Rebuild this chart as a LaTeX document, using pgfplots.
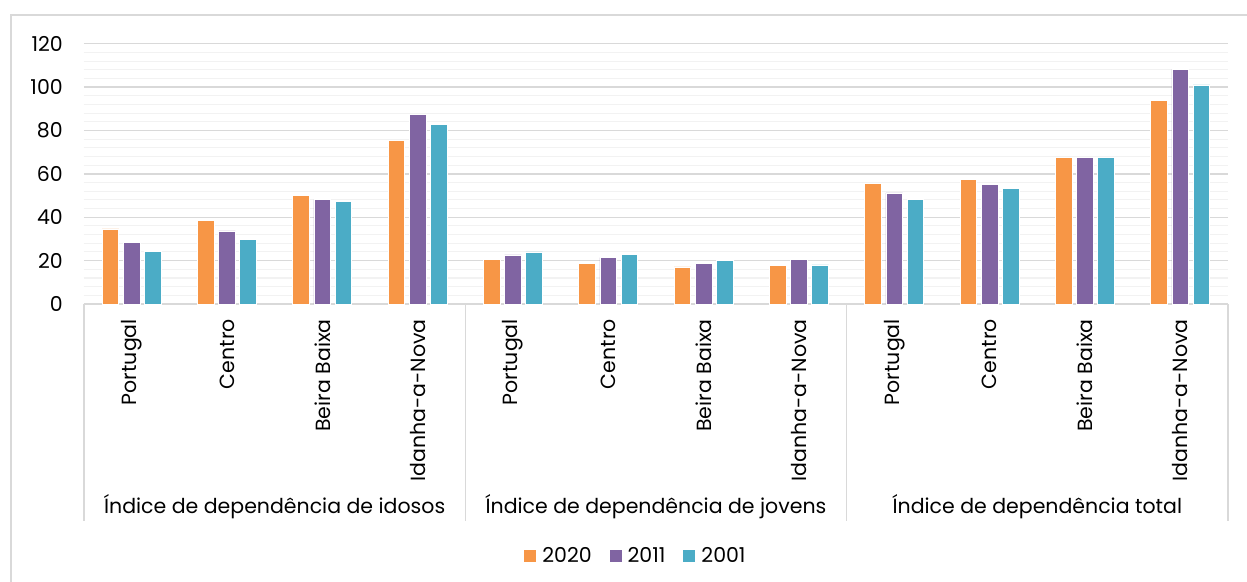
\documentclass[border=0pt]{standalone}
\usepackage{pgfplots}
\pgfplotsset{compat=1.18}
\usepackage{fontspec}
\setmainfont{Poppins}
\definecolor{c20}{HTML}{F79646}
\definecolor{c11}{HTML}{8064A2}
\definecolor{c01}{HTML}{4BACC6}
\definecolor{gridmaj}{HTML}{D9D9D9}
\definecolor{gridmin}{HTML}{F2F2F2}
\newcommand{\cf}{\fontsize{20.5bp}{24bp}\selectfont}
\begin{document}
\begin{tikzpicture}
\path[use as bounding box] (-84bp,-278bp) rectangle (1163bp,304bp);
\fill[white] (-84bp,-278bp) rectangle (1163bp,304bp);
\draw[gridmaj, line width=1.3bp] (-73bp,-300bp) -- (-73bp,289bp) -- (1175bp,289bp);
\begin{axis}[
  at={(0,0)}, anchor=south west, scale only axis,
  width=1144bp, height=260.3bp,
  xmin=-0.5, xmax=11.5, ymin=0, ymax=120,
  clip=false,
  axis lines*=left,
  y axis line style={draw=none},
  x axis line style={gridmaj, line width=1.2bp},
  major tick length=0pt, minor tick length=0pt,
  ytick={0,20,...,120},
  minor y tick num=4,
  ymajorgrids, yminorgrids,
  major grid style={gridmaj, line width=1.3bp},
  minor grid style={gridmin, line width=1.1bp},
  /pgf/number format/assume math mode=true,
  yticklabel style={font=\cf, anchor=east, inner sep=0pt, xshift=-21bp},
  xtick={0,...,11},
  xticklabels={Portugal,Centro,Beira Baixa,Idanha-a-Nova,Portugal,Centro,Beira Baixa,Idanha-a-Nova,Portugal,Centro,Beira Baixa,Idanha-a-Nova},
  xticklabel style={font=\cf, rotate=90, anchor=east, inner xsep=15bp, inner ysep=0pt},
  ybar, bar width=0.175,
  legend columns=3,
  legend style={at={(0.4825,0)}, anchor=center, yshift=-252bp, draw=none, fill=none, font=\cf,
    /tikz/every even column/.append style={column sep=16bp},
    /tikz/every odd column/.append style={column sep=4bp}},
  legend image code/.code={\fill[#1, draw=none] (0bp,-6bp) rectangle (12bp,6bp);},
]
\addplot[fill=c20, draw=white, line width=0.8bp, bar shift=-0.222] coordinates {
 (0,34.6) (1,38.4) (2,49.9) (3,75.3)
 (4,20.7) (5,18.6) (6,17.1) (7,17.7)
 (8,55.6) (9,57.6) (10,67.5) (11,93.7)};
\addplot[fill=c11, draw=white, line width=0.8bp, bar shift=0] coordinates {
 (0,28.4) (1,33.7) (2,48.1) (3,87.4)
 (4,22.6) (5,21.4) (6,18.6) (7,20.4)
 (8,51.2) (9,55.3) (10,67.5) (11,108.2)};
\addplot[fill=c01, draw=white, line width=0.8bp, bar shift=0.222] coordinates {
 (0,24.3) (1,29.8) (2,47.2) (3,82.7)
 (4,24.0) (5,23.0) (6,20.0) (7,18.0)
 (8,48.4) (9,53.2) (10,67.5) (11,101.0)};
\legend{2020,2011,2001}
\draw[gridmaj, line width=1.3bp] (axis cs:-0.5,0) -- ([yshift=-217bp]axis cs:-0.5,0);
\draw[gridmaj, line width=1.3bp] (axis cs:3.5,0) -- ([yshift=-217bp]axis cs:3.5,0);
\draw[gridmaj, line width=1.3bp] (axis cs:7.5,0) -- ([yshift=-217bp]axis cs:7.5,0);
\draw[gridmaj, line width=1.3bp] (axis cs:11.5,0) -- ([yshift=-217bp]axis cs:11.5,0);
\node[font=\cf, yshift=-203bp] at (axis cs:1.5,0) {Índice de dependência de idosos};
\node[font=\cf, yshift=-203bp] at (axis cs:5.5,0) {Índice de dependência de jovens};
\node[font=\cf, yshift=-203bp] at (axis cs:9.5,0) {Índice de dependência total};
\end{axis}
\end{tikzpicture}
\end{document}
